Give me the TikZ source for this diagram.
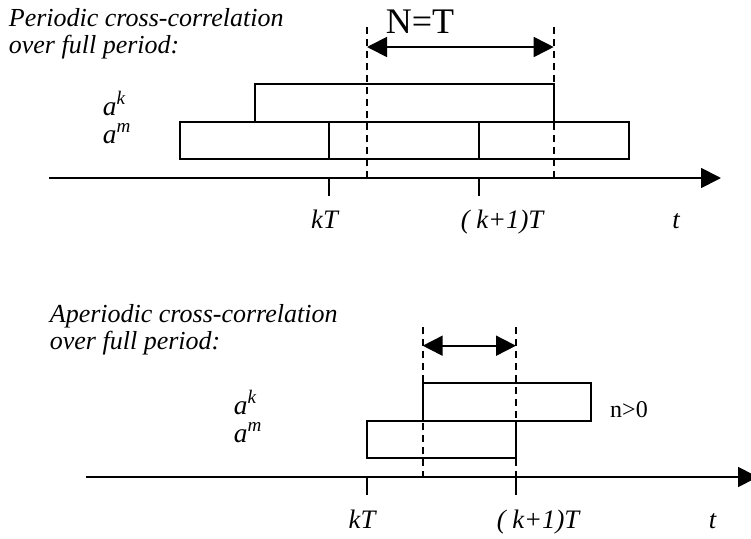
\documentclass[tikz,border=0pt]{standalone}
\usepackage{fontspec}
\setmainfont{Liberation Serif}
\usetikzlibrary{arrows.meta}
\begin{document}
\begin{tikzpicture}[x=0.75pt,y=-0.75pt,
  line width=1.35pt,
  dsh/.style={line width=1.35pt, dash pattern=on 5.5pt off 3.5pt},
  axis/.style={line width=1.35pt, -{Triangle[length=15pt,width=15pt]}},
  dbl/.style={line width=1.35pt, {Triangle[length=15pt,width=15pt]}-{Triangle[length=15pt,width=15pt]}},
  lbl/.style={inner sep=0, anchor=base, font=\fontsize{20}{24}\selectfont\itshape},
  sig/.style={inner sep=0, anchor=base west, font=\fontsize{20.5}{24}\selectfont\itshape},
  ttl/.style={inner sep=0, anchor=north west, align=left, font=\fontsize{19.5}{20}\selectfont\itshape},
]
\useasboundingbox (0,0) rectangle (751,539);
\clip (0,0) rectangle (751,539);

% ---------- top: periodic ----------
\node[ttl] (t1) at (8,8) {Periodic cross-correlation\\over full period:};

\coordinate (ax1s) at (49,178);
\coordinate (ax1e) at (721,178);
\draw[axis] (ax1s) -- (ax1e);

\draw (255,84) rectangle (553.7,122);
\draw (180,122) rectangle (628.7,159);
\draw (329,122) -- (329,159);
\draw (479,122) -- (479,159);

\draw (329,178) -- (329,196);
\draw (479,178) -- (479,196);

\coordinate (d1a) at (367,27);   \coordinate (d1b) at (367,178);
\coordinate (d2a) at (553.7,27); \coordinate (d2b) at (553.7,178);
\draw[dsh] (d1a) -- (d1b);
\draw[dsh] (d2a) -- (d2b);
\coordinate (n1) at (367,47); \coordinate (n2) at (553.7,47);
\draw[dbl] (n1) -- (n2);
\node[inner sep=0, anchor=base, font=\fontsize{27}{27}\selectfont] (nt) at (420,33) {N=T};

\node[sig] (ak1) at (102,115) {a\textsuperscript{k}};
\node[sig] (am1) at (102,143) {a\textsuperscript{m}};

\node[lbl] (kt1) at (324.5,228) {kT};
\node[lbl] (k1t1) at (502,228) {( k+1)T};
\node[lbl] (tt1) at (676,228) {t};

% ---------- bottom: aperiodic ----------
\node[ttl] (t2) at (49,304) {Aperiodic cross-correlation\\over full period:};

\coordinate (ax2s) at (86,477);
\coordinate (ax2e) at (758,477);
\draw[axis] (ax2s) -- (ax2e);

\draw (422.7,383) rectangle (591,420.7);
\draw (366.7,420.7) rectangle (516,457.7);

\draw (366.7,477) -- (366.7,495);
\draw (516,477) -- (516,495);

\coordinate (d3a) at (422.7,327); \coordinate (d3b) at (422.7,477);
\coordinate (d4a) at (516,327);   \coordinate (d4b) at (516,477);
\draw[dsh] (d3a) -- (d3b);
\draw[dsh] (d4a) -- (d4b);
\coordinate (n3) at (422.7,345.7); \coordinate (n4) at (516,345.7);
\draw[dbl] (n3) -- (n4);

\node[inner sep=0, anchor=base, font=\fontsize{18}{18}\selectfont] (npos) at (629,417) {n>0};

\node[sig] (ak2) at (233,414) {a\textsuperscript{k}};
\node[sig] (am2) at (233,442) {a\textsuperscript{m}};

\node[lbl] (kt2) at (362,528) {kT};
\node[lbl] (k1t2) at (538,528) {( k+1)T};
\node[lbl] (tt2) at (712.5,528) {t};
\end{tikzpicture}
\end{document}
